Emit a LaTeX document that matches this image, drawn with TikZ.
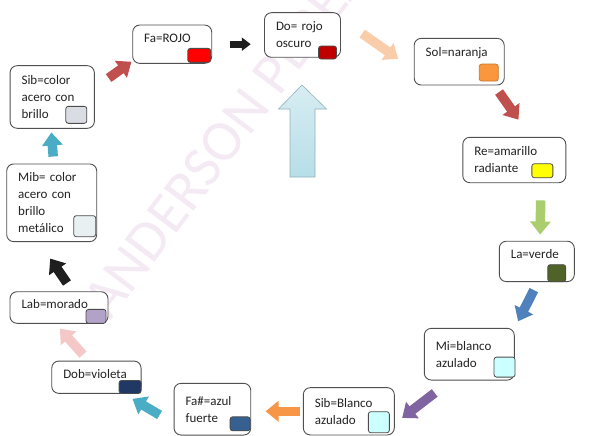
\documentclass[tikz,border=0pt]{standalone}
\usepackage{fontspec}
\setmainfont{Carlito}
\usepackage{tikz}
\usetikzlibrary{arrows.meta, positioning, calc}
\definecolor{cTexto}{RGB}{35,35,35}
\definecolor{cBorde}{RGB}{80,80,80}
\definecolor{cRojo}{RGB}{255,0,0}
\definecolor{cRojoOsc}{RGB}{192,0,0}
\definecolor{cNaranja}{RGB}{250,150,60}
\definecolor{cAmarillo}{RGB}{255,255,0}
\definecolor{cVerdeOsc}{RGB}{79,98,40}
\definecolor{cAzulado}{RGB}{204,255,255}
\definecolor{cAzulF}{RGB}{54,96,146}
\definecolor{cVioleta}{RGB}{31,56,100}
\definecolor{cMorado}{RGB}{179,162,199}
\definecolor{cAceroB}{RGB}{232,240,242}
\definecolor{cAcero}{RGB}{218,220,228}
\definecolor{fRojo}{RGB}{192,80,77}
\definecolor{fNegro}{RGB}{30,30,30}
\definecolor{fMelocoton}{RGB}{250,205,170}
\definecolor{fVerde}{RGB}{170,205,110}
\definecolor{fAzul}{RGB}{79,129,189}
\definecolor{fMorado}{RGB}{128,100,162}
\definecolor{fNaranja}{RGB}{247,150,70}
\definecolor{fTurquesa}{RGB}{75,172,198}
\definecolor{fRosa}{RGB}{245,200,200}
\definecolor{cCeleste}{RGB}{183,222,232}
\definecolor{cMarca}{RGB}{244,234,244}
\tikzset{
	caja/.style 2 args={rectangle, rounded corners=7pt, draw=cBorde, line width=0.9pt, fill=white,
		align=left, inner xsep=11.5pt, inner ysep=2pt, text=cTexto, text width=#1, minimum height=#2},
	una/.style={text height=9pt, text depth=#1},
	muestra/.style 2 args={rectangle, rounded corners=2.5pt, draw=black!70, line width=0.8pt,
		inner sep=0pt, anchor=south east, minimum width=#1, minimum height=#2},
	% block arrows
	flecha/.style={line width=9.5pt, -{Triangle[length=13pt, width=20pt]}},
	marca/.style={font=\fontsize{58}{58}\selectfont, text=cMarca, rotate=53, anchor=base west, inner sep=0pt},
}
\begin{document}
\begin{tikzpicture}[x=1pt, y=-1pt, font=\fontsize{13}{17}\selectfont]
	\useasboundingbox (0,0) rectangle (589,436);
	\node[marca] (agua) at (110,322) {ANDERSON PEREA};
	\draw[draw=cCeleste!80!black, line width=0.6pt, top color=cCeleste!55, bottom color=cCeleste]
		(302,85) -- (326.5,109) -- (315,109) -- (315,177) -- (290,177) -- (290,109) -- (278.5,109) -- cycle;
	% notes
	\node[caja={56pt}{38.3pt}, una=13pt] (fa)   at (172.2,44.2)  {Fa=ROJO};
	\node[caja={53pt}{44.6pt}]           (do)   at (302.5,35)    {Do= rojo\\oscuro};
	\node[caja={67pt}{46.7pt}, una=20pt] (sol)  at (459.2,61.7)  {Sol=naranja};
	\node[caja={80pt}{45.4pt}]           (re)   at (514.3,160)   {Re=amarillo\\radiante};
	\node[caja={52pt}{40.4pt}, una=14pt] (la)   at (536.8,261.4) {La=verde};
	\node[caja={67pt}{51.7pt}]           (mi)   at (469.3,354.2) {Mi=blanco\\azulado};
	\node[caja={68pt}{47.3pt}]           (sibB) at (348.8,411.3) {Sib=Blanco\\azulado};
	\node[caja={53.7pt}{51.7pt}]         (fas)  at (212.4,409.2) {Fa\#=azul\\fuerte};
	\node[caja={66.3pt}{32.3pt}, una=5.5pt] (dob) at (96.4,377.2) {Dob=violeta};
	\node[caja={75pt}{31.6pt}, una=7pt]  (lab)  at (59,307.5)    {Lab=morado};
	\node[caja={67pt}{77.7pt}]           (mib)  at (51.7,202.8)  {Mib= color\\acero con\\brillo\\metálico};
	\node[caja={61.3pt}{62.6pt}]         (sib)  at (52.2,97)     {Sib=color\\acero con\\brillo};
	% colour swatches
	\node[muestra={23pt}{14pt}, fill=cRojo]     (fa-c)   at ($(fa.south east)+(-1,-1)$) {};
	\node[muestra={18pt}{13pt}, fill=cRojoOsc]  (do-c)   at ($(do.south east)+(-4,1.7)$) {};
	\node[muestra={19pt}{17pt}, fill=cNaranja, draw=cNaranja!80!black] (sol-c) at ($(sol.south east)+(-6,-4)$) {};
	\node[muestra={21pt}{14pt}, fill=cAmarillo] (re-c)   at ($(re.south east)+(-13,-5)$) {};
	\node[muestra={18pt}{17pt}, fill=cVerdeOsc] (la-c)   at ($(la.south east)+(-8.6,0)$) {};
	\node[muestra={21pt}{20pt}, fill=cAzulado]  (mi-c)   at ($(mi.south east)+(0.7,-3)$) {};
	\node[muestra={21pt}{21pt}, fill=cAzulado]  (sibB-c) at ($(sibB.south east)+(-5,-2.3)$) {};
	\node[muestra={20pt}{14pt}, fill=cAzulF]    (fas-c)  at ($(fas.south east)+(-0.7,-4.3)$) {};
	\node[muestra={22pt}{13pt}, fill=cVioleta]  (dob-c)  at (dob.south east) {};
	\node[muestra={20pt}{14pt}, fill=cMorado]   (lab-c)  at ($(lab.south east)+(-2,0)$) {};
	\node[muestra={22pt}{21pt}, fill=cAceroB]   (mib-c)  at ($(mib.south east)+(-1,-5)$) {};
	\node[muestra={21pt}{17pt}, fill=cAcero]    (sib-c)  at ($(sib.south east)+(-7.6,-5)$) {};
	% cycle
	\draw[flecha, fRojo]      (sib.12)  -- (fa.203)  [shorten <=17pt, shorten >=1pt];
	\draw[flecha, fNegro, line width=7pt, -{Triangle[length=9pt, width=13pt]}]
		(fa.east) -- (fa.east -| do.west) [shorten <=18.3pt, shorten >=13.3pt];
	\draw[flecha, fMelocoton] (do.23)   -- (sol.190) [shorten <=26pt, shorten >=19pt];
	\draw[flecha, fRojo]      (sol.-34) -- (re.55)   [shorten <=8pt, shorten >=21pt];
	\draw[flecha, fVerde]     (re.-41)  -- (la.81)   [shorten <=17.3pt, shorten >=6.2pt];
	\draw[flecha, fAzul]      (la.-87)  -- (mi.north east) [shorten <=9pt, shorten >=7.4pt];
	\draw[flecha, fMorado]    (mi.235)  -- (sibB.-15) [shorten <=20.4pt, shorten >=9.3pt];
	\draw[flecha, fNaranja]   (sibB.west) -- (sibB.west -| fas.east) [shorten <=3.3pt, shorten >=14.3pt];
	\draw[flecha, fTurquesa]  (fas.200) -- (dob.-31) [shorten <=16.3pt, shorten >=9.8pt];
	\draw[flecha, fRosa]      (dob.116) -- (lab.258) [shorten <=8pt, shorten >=6.6pt];
	\draw[flecha, fNegro]     (lab.50)  -- (mib.252) [shorten <=10pt, shorten >=20pt];
	\draw[flecha, fTurquesa]  (mib.87)  -- (sib.-92) [shorten <=7pt, shorten >=3.7pt];
\end{tikzpicture}
\end{document}
